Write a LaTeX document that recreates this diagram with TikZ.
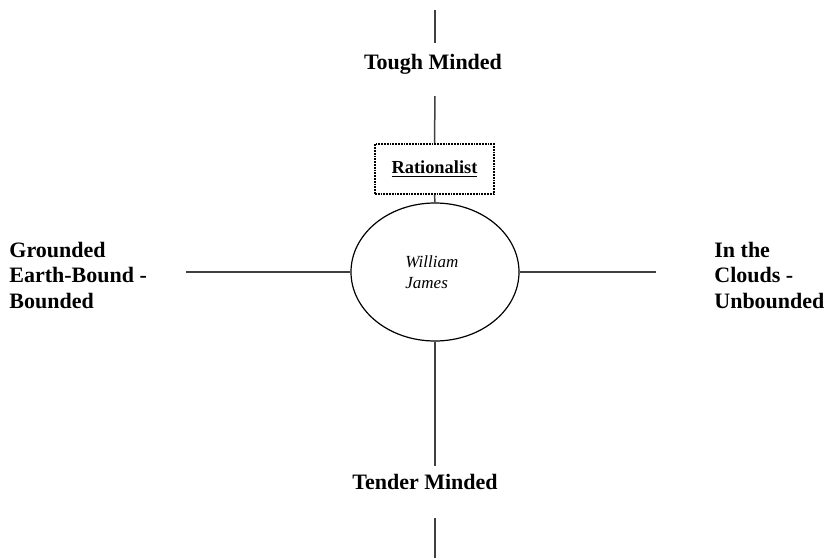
\documentclass[tikz,border=0pt]{standalone}
\usepackage{fontspec}
\setmainfont{Liberation Serif}
\usetikzlibrary{shapes.geometric}

\tikzset{
  axis/.style={draw=black!75, line width=0.75pt},
  pole/.style={font=\fontsize{11}{12.75}\selectfont\bfseries, inner sep=0pt},
  side/.style={pole, align=left, anchor=west},
}

\begin{document}
\begin{tikzpicture}[x=0.5pt, y=-0.5pt]
    \useasboundingbox (0,0) rectangle (827,558);
    % centre figure
    \node[draw, line width=0.6pt, ellipse, minimum width=84pt, minimum height=69pt,
      inner sep=0pt] (james) at (435,272) {};
    \node[align=left, anchor=west, inner sep=0pt,
      font=\fontsize{8.5}{10.5}\selectfont\itshape] (jname) at (405,272) {William\\James};
    \node[draw, line width=1pt, dash pattern=on 0.9pt off 0.5pt,
      minimum width=59.5pt, minimum height=25pt, inner sep=0pt,
      font=\fontsize{9.2}{11}\selectfont\bfseries] (rational) at (434.5,169) {\underline{Rationalist}};
    % the four poles
    \node[pole] (tough) at (433,64) {Tough Minded};
    \node[pole] (tender) at (425,482) {Tender Minded};
    \node[side] (grounded) at (9,275) {Grounded\\Earth-Bound -\\Bounded};
    \node[side] (clouds) at (714,275) {In the\\Clouds -\\Unbounded};
    % free ends of the axes
    \coordinate (top1) at (435,10);
    \coordinate (top2) at (435,43);
    \coordinate (top3) at (435,96);
    \coordinate (left) at (186,272);
    \coordinate (right) at (656,272);
    \coordinate (bot1) at (435,466);
    \coordinate (bot2) at (435,518);
    \coordinate (bot3) at (435,558);
    \draw[axis] (top1) -- (top2);
    \draw[axis] (top3) -- (rational.north);
    \draw[axis] (rational.south) -- (james.north);
    \draw[axis] (left) -- (james.west);
    \draw[axis] (james.east) -- (right);
    \draw[axis] (james.south) -- (bot1);
    \draw[axis] (bot2) -- (bot3);
\end{tikzpicture}
\end{document}
